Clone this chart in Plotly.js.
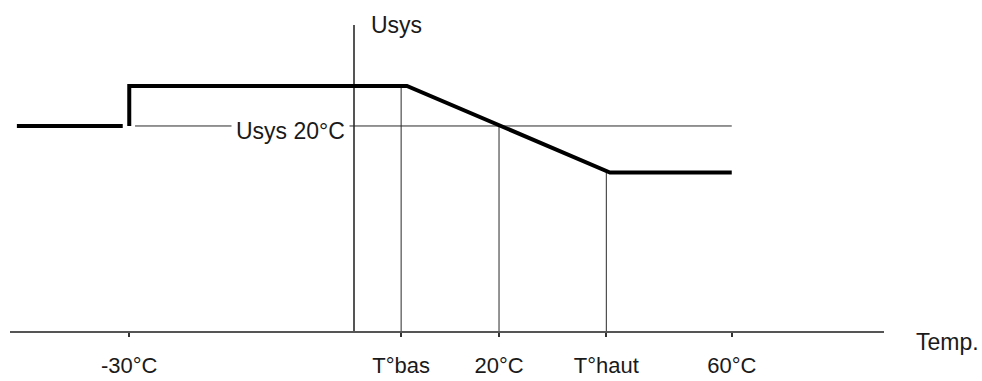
<!DOCTYPE html>
<html>
<head>
<meta charset="utf-8">
<script src="https://cdn.plot.ly/plotly-3.0.1.min.js"></script>
<style>html,body{margin:0;padding:0;background:#fff;}#chart{width:982px;height:381px;}</style>
</head>
<body>
<div id="chart"></div>
<script>
// Schematic temperature positions (x units: ~°C, schematic spacing)
const tickLabels = ['-30°C', 'T°bas', '20°C', 'T°haut', '60°C'];
const tickPos = [-31.0, 6.5, 20, 34.8, 52.1];

// Usys levels (schematic units)
const usysHigh = 80.1;
const usys20 = 67.0;
const usysLow = 51.8;

// Thick characteristic curve
const coldX = [-46.5, -31.9];
const coldY = [usys20, usys20];
const curveX = [-31.0, -31.0, 7.3, 35.3, 52.1];
const curveY = [usys20, usysHigh, usysHigh, usysLow, usysLow];

// Reference (thin) lines
const refX = [-30.2, 52.1];
const refY = [usys20, usys20];
const dropTops = [usysHigh, usys20, usysLow]; // for T°bas, 20°C, T°haut

const thin = {color: '#2a2a2a', width: 1};
const thick = {color: '#000000', width: 4};

const traces = [
  {x: refX, y: refY, mode: 'lines', line: thin, hoverinfo: 'skip'},
  {x: [tickPos[1], tickPos[1]], y: [0, dropTops[0]], mode: 'lines', line: thin, hoverinfo: 'skip'},
  {x: [tickPos[2], tickPos[2]], y: [0, dropTops[1]], mode: 'lines', line: thin, hoverinfo: 'skip'},
  {x: [tickPos[3], tickPos[3]], y: [0, dropTops[2]], mode: 'lines', line: thin, hoverinfo: 'skip'},
  {x: coldX, y: coldY, mode: 'lines', line: thick, hoverinfo: 'skip'},
  {x: curveX, y: curveY, mode: 'lines', line: thick, hoverinfo: 'skip'}
];

const font = {family: 'Liberation Sans, Arial, sans-serif', size: 23, color: '#1a1a1a'};
const tickFont = {family: 'Liberation Sans, Arial, sans-serif', size: 22, color: '#1a1a1a'};

const layout = {
  width: 982, height: 381,
  margin: {l: 10, r: 98, t: 25, b: 50},
  paper_bgcolor: '#fff', plot_bgcolor: '#fff',
  showlegend: false,
  font: font,
  xaxis: {
    range: [-47.45, 73.1], autorange: false, fixedrange: true,
    showgrid: false,
    zeroline: true, zerolinecolor: '#555', zerolinewidth: 1.5,
    showline: true, linecolor: '#555', linewidth: 2,
    tickmode: 'array', tickvals: tickPos, ticktext: tickLabels,
    ticks: 'outside', ticklen: 4, tickwidth: 2, tickcolor: '#333',
    ticklabelstandoff: 10,
    tickfont: tickFont
  },
  yaxis: {
    range: [0, 100], autorange: false, fixedrange: true,
    showgrid: false, zeroline: false, showline: false,
    showticklabels: false, ticks: ''
  },
  annotations: [
    {x: -8.83, y: 65.4, xref: 'x', yref: 'y', text: 'Usys 20°C', showarrow: false,
     font: font, bgcolor: '#fff', borderpad: 4},
    {x: 2.0, y: 100, xref: 'x', yref: 'y', xanchor: 'left', yanchor: 'middle',
     text: 'Usys', showarrow: false, font: font},
    {x: 1.0727, y: -0.036, xref: 'paper', yref: 'paper', xanchor: 'center', yanchor: 'middle',
     text: 'Temp.', showarrow: false, font: font}
  ]
};

Plotly.newPlot('chart', traces, layout, {displayModeBar: false, staticPlot: true});
</script>
</body>
</html>
